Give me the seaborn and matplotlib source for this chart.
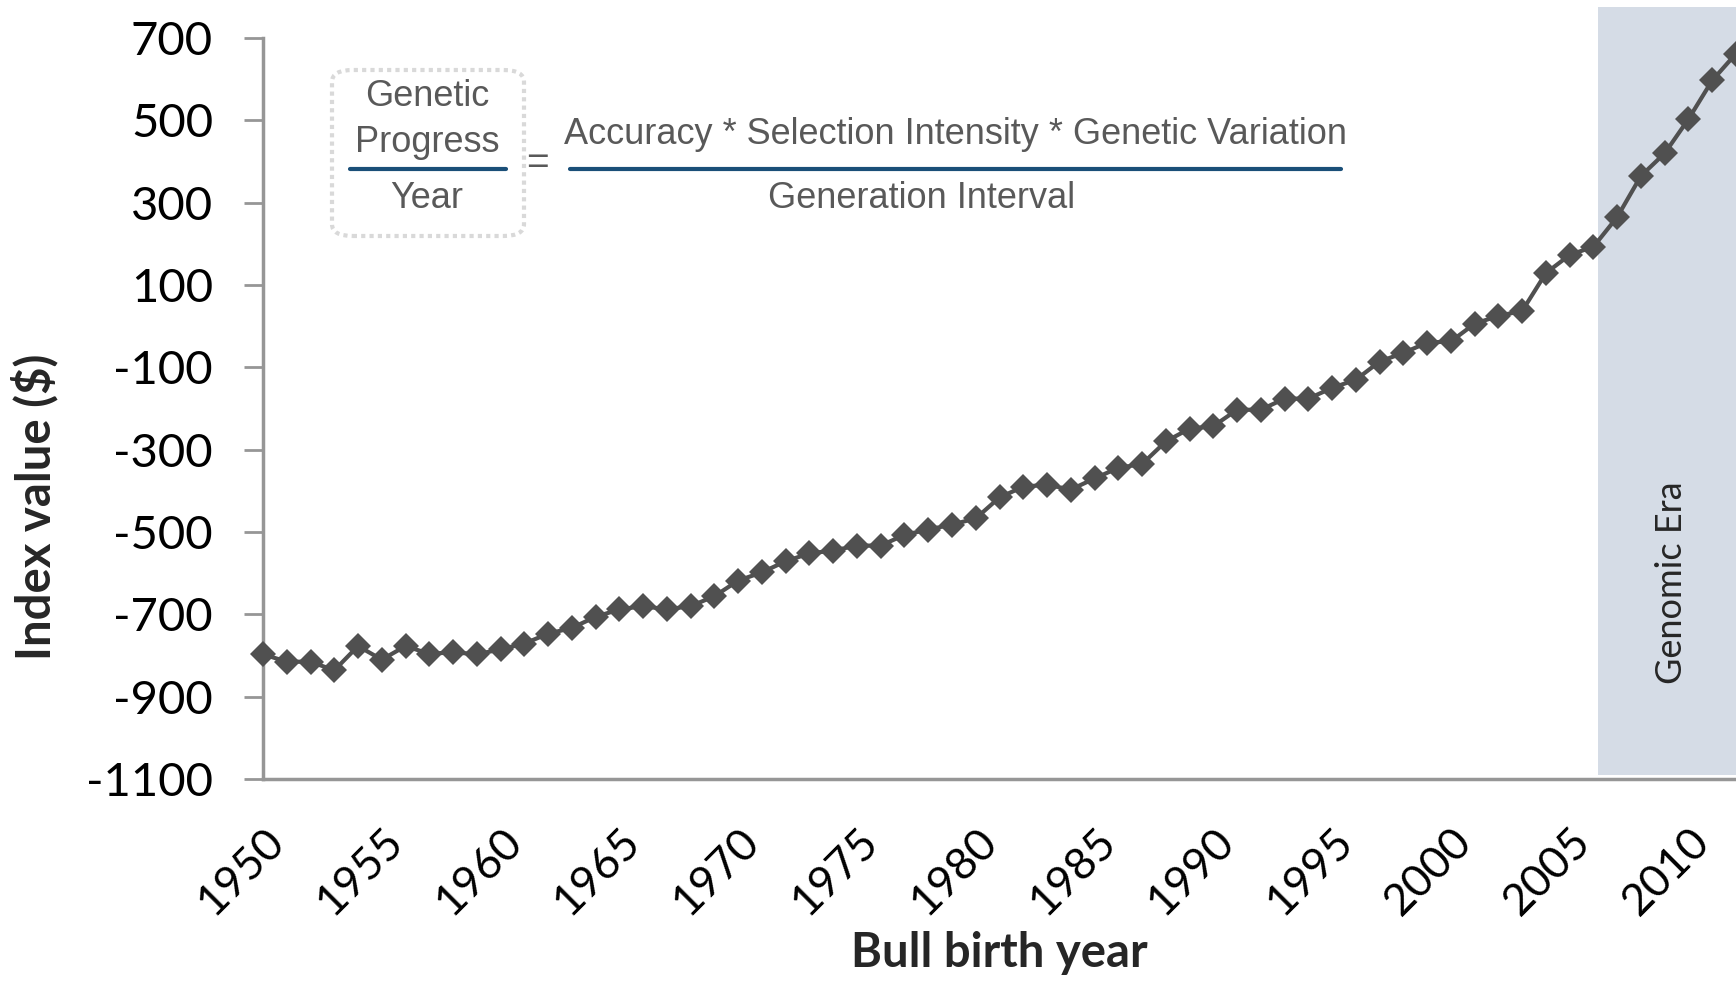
import matplotlib
matplotlib.use("Agg")
import matplotlib.pyplot as plt
from matplotlib.patches import FancyBboxPatch
import seaborn as sns
import pandas as pd
import numpy as np

# Index value by bull birth year
years = list(range(1950, 2013))
index_values = [
    -797, -815, -815, -836, -777, -810, -777, -796, -792, -797,
    -785, -771, -747, -733, -706, -688, -680, -688, -680, -656,
    -618, -598, -571, -552, -545, -533, -533, -507, -494, -482,
    -467, -416, -390, -385, -397, -370, -344, -335, -280, -249,
    -243, -203, -203, -176, -176, -150, -130, -86, -65, -40,
    -37, 6, 25, 37, 129, 173, 193, 265, 365, 420,
    503, 597, 662,
]
x_ticks = list(range(1950, 2011, 5))
y_ticks = list(range(-1100, 701, 200))
genomic_start = 2006.2

df = pd.DataFrame({"Year": years, "Index": index_values})

sns.set_theme(style="white")
plt.rcParams["font.family"] = ["Lato", "DejaVu Sans"]

fig = plt.figure(figsize=(17.36, 9.84), dpi=100)
ax = fig.add_axes([0.1515, 0.2083, 0.8485, 0.7531])

# genomic era shading (spills above the top tick like in the original)
ax.axvspan(genomic_start, 2013, ymin=0.005, ymax=1.042, color="#d5dce6",
           clip_on=False, zorder=0, lw=0)

sns.lineplot(data=df, x="Year", y="Index", ax=ax, color="#505050",
             linewidth=3, marker="D", markersize=13, markeredgewidth=0,
             zorder=3)
for ln in ax.lines:
    ln.set_clip_on(False)

ax.set_xlim(1950, 2012)
ax.set_ylim(-1100, 700)
ax.set_xticks(x_ticks)
ax.set_yticks(y_ticks)
ax.set_xticklabels([str(t) for t in x_ticks], rotation=45, ha="right",
                   rotation_mode="anchor", fontsize=32, color="black")
ax.set_yticklabels([str(t) for t in y_ticks], fontsize=34, color="black")
ax.tick_params(axis="y", length=14, width=2, color="#969696", pad=22, left=True)
ax.tick_params(axis="x", length=0, pad=30)

for s in ["top", "right"]:
    ax.spines[s].set_visible(False)
for s in ["left", "bottom"]:
    ax.spines[s].set_color("#969696")
    ax.spines[s].set_linewidth(2.5)

ax.set_xlabel("Bull birth year", fontsize=34, fontweight="bold")
ax.set_ylabel("Index value ($)", fontsize=34, fontweight="bold")
ax.yaxis.set_label_coords(-0.139, 0.367)
ax.xaxis.set_label_coords(0.5, -0.205)

# equation overlay
eq_font = ["Liberation Sans Narrow", "Liberation Sans", "DejaVu Sans"]
gray = "#595959"
blue = "#1a4f78"


def fx(px):
    return px / 1736


def fy(py):
    return 1 - py / 984


fig.text(fx(427), fy(97), "Genetic", ha="center", va="center", fontsize=26,
         color=gray, family=eq_font)
fig.text(fx(427), fy(142), "Progress", ha="center", va="center", fontsize=26,
         color=gray, family=eq_font)
fig.text(fx(427), fy(199), "Year", ha="center", va="center", fontsize=26,
         color=gray, family=eq_font)
fig.text(fx(537), fy(164), "=", ha="center", va="center", fontsize=28,
         color=gray, family=eq_font)
fig.text(fx(955), fy(134), "Accuracy * Selection Intensity * Genetic Variation",
         ha="center", va="center", fontsize=26, color=gray, family=eq_font)
fig.text(fx(922), fy(199), "Generation Interval", ha="center", va="center",
         fontsize=26, color=gray, family=eq_font)
fig.add_artist(plt.Line2D([fx(350), fx(506)], [fy(169), fy(169)],
                          transform=fig.transFigure, color=blue, lw=3))
fig.add_artist(plt.Line2D([fx(570), fx(1341)], [fy(169), fy(169)],
                          transform=fig.transFigure, color=blue, lw=3))
box = FancyBboxPatch((fx(332), fy(236)), fx(524) - fx(332), fy(70) - fy(236),
                     boxstyle="round,pad=0,rounding_size=0.012",
                     transform=fig.transFigure, fill=False,
                     edgecolor="#d9d9d9", lw=3, linestyle=(0, (1, 1)))
fig.add_artist(box)

fig.text(fx(1672), fy(583), "Genomic Era", rotation=90, ha="center",
         va="center", fontsize=26, color="#262626")

fig.savefig("out.png", dpi=100)
